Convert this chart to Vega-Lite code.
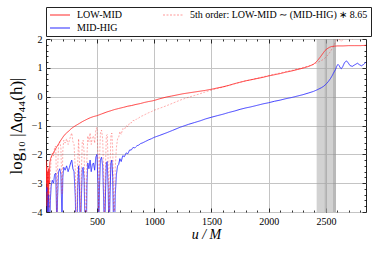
{
  "$schema": "https://vega.github.io/schema/vega-lite/v6.json",
  "width": 320,
  "height": 173,
  "autosize": {"type": "none"},
  "padding": {"left": 46, "top": 39, "right": 8, "bottom": 41},
  "config": {
    "view": {"stroke": "#222", "strokeWidth": 1},
    "font": "Liberation Serif",
    "legend": {
      "orient": "none", "legendX": 0, "legendY": -32, "columns": 2,
      "padding": 3, "rowPadding": 3, "columnPadding": 40,
      "strokeColor": "#222", "fillColor": "white",
      "labelFont": "Liberation Serif", "labelFontSize": 10, "labelColor": "#000", "labelLimit": 400,
      "symbolSize": 400, "symbolStrokeWidth": 1.2, "symbolType": "stroke",
      "clipHeight": 10, "labelOffset": 6
    }
  },
  "data": {"values": [
    {"s":"LOW-MID","u":55,"v":-2.2},{"s":"LOW-MID","u":58,"v":-3.0},{"s":"LOW-MID","u":61,"v":-2.4},{"s":"LOW-MID","u":64,"v":-3.8},{"s":"LOW-MID","u":67,"v":-2.6},{"s":"LOW-MID","u":70,"v":-4.3},{"s":"LOW-MID","u":73,"v":-2.9},{"s":"LOW-MID","u":76,"v":-3.6},{"s":"LOW-MID","u":79,"v":-2.5},{"s":"LOW-MID","u":83,"v":-3.0},{"s":"LOW-MID","u":88,"v":-2.3},{"s":"LOW-MID","u":95,"v":-2.15},{"s":"LOW-MID","u":105,"v":-2.05},{"s":"LOW-MID","u":113,"v":-2.0},{"s":"LOW-MID","u":121,"v":-1.95},{"s":"LOW-MID","u":130,"v":-1.87},{"s":"LOW-MID","u":140,"v":-1.8},{"s":"LOW-MID","u":152,"v":-1.72},{"s":"LOW-MID","u":165,"v":-1.64},{"s":"LOW-MID","u":178,"v":-1.55},{"s":"LOW-MID","u":190,"v":-1.48},{"s":"LOW-MID","u":205,"v":-1.39},{"s":"LOW-MID","u":223,"v":-1.3},{"s":"LOW-MID","u":240,"v":-1.24},{"s":"LOW-MID","u":260,"v":-1.17},{"s":"LOW-MID","u":278,"v":-1.1},{"s":"LOW-MID","u":296,"v":-1.05},{"s":"LOW-MID","u":320,"v":-0.99},{"s":"LOW-MID","u":350,"v":-0.92},{"s":"LOW-MID","u":375,"v":-0.86},{"s":"LOW-MID","u":400,"v":-0.81},{"s":"LOW-MID","u":420,"v":-0.77},{"s":"LOW-MID","u":442,"v":-0.73},{"s":"LOW-MID","u":470,"v":-0.69},{"s":"LOW-MID","u":500,"v":-0.66},{"s":"LOW-MID","u":540,"v":-0.6},{"s":"LOW-MID","u":587,"v":-0.53},{"s":"LOW-MID","u":620,"v":-0.49},{"s":"LOW-MID","u":650,"v":-0.45},{"s":"LOW-MID","u":690,"v":-0.41},{"s":"LOW-MID","u":732,"v":-0.37},{"s":"LOW-MID","u":770,"v":-0.33},{"s":"LOW-MID","u":800,"v":-0.31},{"s":"LOW-MID","u":840,"v":-0.27},{"s":"LOW-MID","u":878,"v":-0.24},{"s":"LOW-MID","u":915,"v":-0.2},{"s":"LOW-MID","u":950,"v":-0.17},{"s":"LOW-MID","u":980,"v":-0.15},{"s":"LOW-MID","u":1009,"v":-0.12},{"s":"LOW-MID","u":1050,"v":-0.07},{"s":"LOW-MID","u":1110,"v":-0.01},{"s":"LOW-MID","u":1150,"v":0.02},{"s":"LOW-MID","u":1200,"v":0.06},{"s":"LOW-MID","u":1250,"v":0.1},{"s":"LOW-MID","u":1300,"v":0.13},{"s":"LOW-MID","u":1350,"v":0.16},{"s":"LOW-MID","u":1400,"v":0.19},{"s":"LOW-MID","u":1450,"v":0.22},{"s":"LOW-MID","u":1503,"v":0.26},{"s":"LOW-MID","u":1550,"v":0.3},{"s":"LOW-MID","u":1600,"v":0.34},{"s":"LOW-MID","u":1650,"v":0.39},{"s":"LOW-MID","u":1700,"v":0.45},{"s":"LOW-MID","u":1750,"v":0.5},{"s":"LOW-MID","u":1800,"v":0.55},{"s":"LOW-MID","u":1838,"v":0.58},{"s":"LOW-MID","u":1900,"v":0.63},{"s":"LOW-MID","u":1950,"v":0.67},{"s":"LOW-MID","u":2000,"v":0.72},{"s":"LOW-MID","u":2050,"v":0.76},{"s":"LOW-MID","u":2100,"v":0.8},{"s":"LOW-MID","u":2150,"v":0.85},{"s":"LOW-MID","u":2200,"v":0.89},{"s":"LOW-MID","u":2250,"v":0.94},{"s":"LOW-MID","u":2300,"v":0.99},{"s":"LOW-MID","u":2350,"v":1.05},{"s":"LOW-MID","u":2390,"v":1.12},{"s":"LOW-MID","u":2414,"v":1.2},{"s":"LOW-MID","u":2430,"v":1.27},{"s":"LOW-MID","u":2448,"v":1.36},{"s":"LOW-MID","u":2470,"v":1.48},{"s":"LOW-MID","u":2492,"v":1.6},{"s":"LOW-MID","u":2510,"v":1.66},{"s":"LOW-MID","u":2530,"v":1.71},{"s":"LOW-MID","u":2550,"v":1.74},{"s":"LOW-MID","u":2570,"v":1.75},{"s":"LOW-MID","u":2600,"v":1.76},{"s":"LOW-MID","u":2650,"v":1.76},{"s":"LOW-MID","u":2700,"v":1.77},{"s":"LOW-MID","u":2750,"v":1.77},{"s":"LOW-MID","u":2800,"v":1.77},{"s":"LOW-MID","u":2850,"v":1.78},

    {"s":"MID-HIG","u":58,"v":-3.3},{"s":"MID-HIG","u":64,"v":-3.15},{"s":"MID-HIG","u":70,"v":-4.6},{"s":"MID-HIG","u":78,"v":-3.4},{"s":"MID-HIG","u":86,"v":-4.8},{"s":"MID-HIG","u":93,"v":-3.6},{"s":"MID-HIG","u":100,"v":-3.1},{"s":"MID-HIG","u":110,"v":-2.9},{"s":"MID-HIG","u":121,"v":-3.0},{"s":"MID-HIG","u":130,"v":-2.7},{"s":"MID-HIG","u":140,"v":-2.65},{"s":"MID-HIG","u":146,"v":-3.8},{"s":"MID-HIG","u":150,"v":-5.0},{"s":"MID-HIG","u":156,"v":-3.5},{"s":"MID-HIG","u":165,"v":-2.6},{"s":"MID-HIG","u":175,"v":-2.5},{"s":"MID-HIG","u":185,"v":-2.7},{"s":"MID-HIG","u":195,"v":-4.3},{"s":"MID-HIG","u":202,"v":-2.8},{"s":"MID-HIG","u":210,"v":-2.45},{"s":"MID-HIG","u":222,"v":-2.55},{"s":"MID-HIG","u":235,"v":-2.4},{"s":"MID-HIG","u":248,"v":-2.6},{"s":"MID-HIG","u":260,"v":-2.45},{"s":"MID-HIG","u":270,"v":-2.3},{"s":"MID-HIG","u":280,"v":-2.2},{"s":"MID-HIG","u":290,"v":-2.5},{"s":"MID-HIG","u":300,"v":-2.6},{"s":"MID-HIG","u":311,"v":-3.5},{"s":"MID-HIG","u":318,"v":-5.2},{"s":"MID-HIG","u":326,"v":-4.8},{"s":"MID-HIG","u":332,"v":-3.2},{"s":"MID-HIG","u":340,"v":-2.4},{"s":"MID-HIG","u":348,"v":-3.3},{"s":"MID-HIG","u":356,"v":-5.0},{"s":"MID-HIG","u":365,"v":-3.4},{"s":"MID-HIG","u":372,"v":-2.5},{"s":"MID-HIG","u":380,"v":-2.45},{"s":"MID-HIG","u":388,"v":-2.9},{"s":"MID-HIG","u":398,"v":-4.9},{"s":"MID-HIG","u":406,"v":-5.2},{"s":"MID-HIG","u":413,"v":-3.0},{"s":"MID-HIG","u":420,"v":-2.3},{"s":"MID-HIG","u":430,"v":-2.5},{"s":"MID-HIG","u":440,"v":-2.2},{"s":"MID-HIG","u":450,"v":-2.6},{"s":"MID-HIG","u":460,"v":-2.35},{"s":"MID-HIG","u":470,"v":-2.3},{"s":"MID-HIG","u":480,"v":-2.55},{"s":"MID-HIG","u":490,"v":-2.1},{"s":"MID-HIG","u":500,"v":-2.0},{"s":"MID-HIG","u":509,"v":-3.0},{"s":"MID-HIG","u":515,"v":-5.0},{"s":"MID-HIG","u":522,"v":-3.2},{"s":"MID-HIG","u":530,"v":-2.2},{"s":"MID-HIG","u":540,"v":-2.1},{"s":"MID-HIG","u":550,"v":-2.4},{"s":"MID-HIG","u":558,"v":-3.5},{"s":"MID-HIG","u":566,"v":-5.1},{"s":"MID-HIG","u":575,"v":-3.3},{"s":"MID-HIG","u":582,"v":-2.3},{"s":"MID-HIG","u":590,"v":-2.25},{"s":"MID-HIG","u":598,"v":-3.2},{"s":"MID-HIG","u":606,"v":-5.0},{"s":"MID-HIG","u":615,"v":-3.3},{"s":"MID-HIG","u":622,"v":-2.3},{"s":"MID-HIG","u":630,"v":-2.2},{"s":"MID-HIG","u":638,"v":-2.8},{"s":"MID-HIG","u":645,"v":-4.6},{"s":"MID-HIG","u":652,"v":-5.1},{"s":"MID-HIG","u":660,"v":-3.4},{"s":"MID-HIG","u":670,"v":-2.7},{"s":"MID-HIG","u":680,"v":-2.4},{"s":"MID-HIG","u":690,"v":-2.35},{"s":"MID-HIG","u":700,"v":-2.15},{"s":"MID-HIG","u":712,"v":-2.25},{"s":"MID-HIG","u":725,"v":-2.05},{"s":"MID-HIG","u":740,"v":-2.08},{"s":"MID-HIG","u":755,"v":-1.95},{"s":"MID-HIG","u":770,"v":-1.98},{"s":"MID-HIG","u":785,"v":-1.85},{"s":"MID-HIG","u":800,"v":-1.85},{"s":"MID-HIG","u":815,"v":-1.76},{"s":"MID-HIG","u":830,"v":-1.78},{"s":"MID-HIG","u":850,"v":-1.7},{"s":"MID-HIG","u":865,"v":-1.68},{"s":"MID-HIG","u":880,"v":-1.63},{"s":"MID-HIG","u":900,"v":-1.6},{"s":"MID-HIG","u":925,"v":-1.55},{"s":"MID-HIG","u":950,"v":-1.5},{"s":"MID-HIG","u":975,"v":-1.46},{"s":"MID-HIG","u":1000,"v":-1.41},{"s":"MID-HIG","u":1050,"v":-1.34},{"s":"MID-HIG","u":1110,"v":-1.25},{"s":"MID-HIG","u":1160,"v":-1.17},{"s":"MID-HIG","u":1227,"v":-1.06},{"s":"MID-HIG","u":1300,"v":-0.96},{"s":"MID-HIG","u":1350,"v":-0.9},{"s":"MID-HIG","u":1400,"v":-0.84},{"s":"MID-HIG","u":1450,"v":-0.77},{"s":"MID-HIG","u":1503,"v":-0.71},{"s":"MID-HIG","u":1550,"v":-0.66},{"s":"MID-HIG","u":1600,"v":-0.61},{"s":"MID-HIG","u":1650,"v":-0.55},{"s":"MID-HIG","u":1700,"v":-0.5},{"s":"MID-HIG","u":1750,"v":-0.44},{"s":"MID-HIG","u":1800,"v":-0.39},{"s":"MID-HIG","u":1838,"v":-0.36},{"s":"MID-HIG","u":1900,"v":-0.3},{"s":"MID-HIG","u":1950,"v":-0.25},{"s":"MID-HIG","u":2000,"v":-0.21},{"s":"MID-HIG","u":2050,"v":-0.16},{"s":"MID-HIG","u":2100,"v":-0.12},{"s":"MID-HIG","u":2150,"v":-0.07},{"s":"MID-HIG","u":2200,"v":-0.03},{"s":"MID-HIG","u":2250,"v":0.02},{"s":"MID-HIG","u":2300,"v":0.07},{"s":"MID-HIG","u":2350,"v":0.13},{"s":"MID-HIG","u":2390,"v":0.18},{"s":"MID-HIG","u":2419,"v":0.23},{"s":"MID-HIG","u":2440,"v":0.27},{"s":"MID-HIG","u":2460,"v":0.31},{"s":"MID-HIG","u":2480,"v":0.36},{"s":"MID-HIG","u":2500,"v":0.43},{"s":"MID-HIG","u":2520,"v":0.52},{"s":"MID-HIG","u":2540,"v":0.63},{"s":"MID-HIG","u":2555,"v":0.73},{"s":"MID-HIG","u":2565,"v":0.81},{"s":"MID-HIG","u":2575,"v":0.88},{"s":"MID-HIG","u":2585,"v":0.95},{"s":"MID-HIG","u":2595,"v":1.06},{"s":"MID-HIG","u":2605,"v":1.12},{"s":"MID-HIG","u":2615,"v":1.08},{"s":"MID-HIG","u":2625,"v":1.0},{"s":"MID-HIG","u":2635,"v":0.97},{"s":"MID-HIG","u":2648,"v":1.05},{"s":"MID-HIG","u":2662,"v":1.18},{"s":"MID-HIG","u":2680,"v":1.24},{"s":"MID-HIG","u":2695,"v":1.17},{"s":"MID-HIG","u":2710,"v":1.08},{"s":"MID-HIG","u":2730,"v":1.05},{"s":"MID-HIG","u":2750,"v":1.1},{"s":"MID-HIG","u":2775,"v":1.16},{"s":"MID-HIG","u":2792,"v":1.11},{"s":"MID-HIG","u":2810,"v":1.07},{"s":"MID-HIG","u":2830,"v":1.12},{"s":"MID-HIG","u":2850,"v":1.2},

    {"s":"5th","u":58,"v":-2.36},{"s":"5th","u":64,"v":-2.21},{"s":"5th","u":70,"v":-3.66},{"s":"5th","u":78,"v":-2.46},{"s":"5th","u":86,"v":-3.86},{"s":"5th","u":93,"v":-2.66},{"s":"5th","u":100,"v":-2.16},{"s":"5th","u":110,"v":-1.96},{"s":"5th","u":121,"v":-2.06},{"s":"5th","u":130,"v":-1.76},{"s":"5th","u":140,"v":-1.71},{"s":"5th","u":146,"v":-2.86},{"s":"5th","u":150,"v":-4.06},{"s":"5th","u":156,"v":-2.56},{"s":"5th","u":165,"v":-1.66},{"s":"5th","u":175,"v":-1.56},{"s":"5th","u":185,"v":-1.76},{"s":"5th","u":195,"v":-3.36},{"s":"5th","u":202,"v":-1.86},{"s":"5th","u":210,"v":-1.51},{"s":"5th","u":222,"v":-1.61},{"s":"5th","u":235,"v":-1.46},{"s":"5th","u":248,"v":-1.66},{"s":"5th","u":260,"v":-1.51},{"s":"5th","u":270,"v":-1.36},{"s":"5th","u":280,"v":-1.26},{"s":"5th","u":290,"v":-1.56},{"s":"5th","u":300,"v":-1.66},{"s":"5th","u":311,"v":-2.56},{"s":"5th","u":318,"v":-4.26},{"s":"5th","u":326,"v":-3.86},{"s":"5th","u":332,"v":-2.26},{"s":"5th","u":340,"v":-1.46},{"s":"5th","u":348,"v":-2.36},{"s":"5th","u":356,"v":-4.06},{"s":"5th","u":365,"v":-2.46},{"s":"5th","u":372,"v":-1.56},{"s":"5th","u":380,"v":-1.51},{"s":"5th","u":388,"v":-1.96},{"s":"5th","u":398,"v":-3.96},{"s":"5th","u":406,"v":-4.26},{"s":"5th","u":413,"v":-2.06},{"s":"5th","u":420,"v":-1.36},{"s":"5th","u":430,"v":-1.56},{"s":"5th","u":440,"v":-1.26},{"s":"5th","u":450,"v":-1.66},{"s":"5th","u":460,"v":-1.41},{"s":"5th","u":470,"v":-1.36},{"s":"5th","u":480,"v":-1.61},{"s":"5th","u":490,"v":-1.16},{"s":"5th","u":500,"v":-1.06},{"s":"5th","u":509,"v":-2.06},{"s":"5th","u":515,"v":-4.06},{"s":"5th","u":522,"v":-2.26},{"s":"5th","u":530,"v":-1.26},{"s":"5th","u":540,"v":-1.16},{"s":"5th","u":550,"v":-1.46},{"s":"5th","u":558,"v":-2.56},{"s":"5th","u":566,"v":-4.16},{"s":"5th","u":575,"v":-2.36},{"s":"5th","u":582,"v":-1.36},{"s":"5th","u":590,"v":-1.31},{"s":"5th","u":598,"v":-2.26},{"s":"5th","u":606,"v":-4.06},{"s":"5th","u":615,"v":-2.36},{"s":"5th","u":622,"v":-1.36},{"s":"5th","u":630,"v":-1.26},{"s":"5th","u":638,"v":-1.86},{"s":"5th","u":645,"v":-3.66},{"s":"5th","u":652,"v":-4.16},{"s":"5th","u":660,"v":-2.46},{"s":"5th","u":670,"v":-1.76},{"s":"5th","u":680,"v":-1.46},{"s":"5th","u":690,"v":-1.41},{"s":"5th","u":700,"v":-1.21},{"s":"5th","u":712,"v":-1.31},{"s":"5th","u":725,"v":-1.11},{"s":"5th","u":740,"v":-1.14},{"s":"5th","u":755,"v":-1.01},{"s":"5th","u":770,"v":-1.04},{"s":"5th","u":785,"v":-0.91},{"s":"5th","u":800,"v":-0.91},{"s":"5th","u":815,"v":-0.82},{"s":"5th","u":830,"v":-0.84},{"s":"5th","u":850,"v":-0.76},{"s":"5th","u":865,"v":-0.74},{"s":"5th","u":880,"v":-0.69},{"s":"5th","u":900,"v":-0.66},{"s":"5th","u":925,"v":-0.61},{"s":"5th","u":950,"v":-0.56},{"s":"5th","u":975,"v":-0.52},{"s":"5th","u":1000,"v":-0.47},{"s":"5th","u":1050,"v":-0.4},{"s":"5th","u":1110,"v":-0.31},{"s":"5th","u":1160,"v":-0.23},{"s":"5th","u":1227,"v":-0.12},{"s":"5th","u":1300,"v":-0.02},{"s":"5th","u":1350,"v":0.04},{"s":"5th","u":1400,"v":0.1},{"s":"5th","u":1450,"v":0.17},{"s":"5th","u":1503,"v":0.23},{"s":"5th","u":1550,"v":0.28},{"s":"5th","u":1600,"v":0.33},{"s":"5th","u":1650,"v":0.39},{"s":"5th","u":1700,"v":0.44},{"s":"5th","u":1750,"v":0.5},{"s":"5th","u":1800,"v":0.55},{"s":"5th","u":1838,"v":0.58},{"s":"5th","u":1900,"v":0.64},{"s":"5th","u":1950,"v":0.69},{"s":"5th","u":2000,"v":0.73},{"s":"5th","u":2050,"v":0.78},{"s":"5th","u":2100,"v":0.82},{"s":"5th","u":2150,"v":0.87},{"s":"5th","u":2200,"v":0.91},{"s":"5th","u":2250,"v":0.96},{"s":"5th","u":2300,"v":1.01},{"s":"5th","u":2350,"v":1.07},{"s":"5th","u":2390,"v":1.12},{"s":"5th","u":2419,"v":1.17},{"s":"5th","u":2440,"v":1.21},{"s":"5th","u":2460,"v":1.25},{"s":"5th","u":2480,"v":1.3},{"s":"5th","u":2500,"v":1.37},{"s":"5th","u":2520,"v":1.46},{"s":"5th","u":2540,"v":1.57},{"s":"5th","u":2555,"v":1.67},{"s":"5th","u":2565,"v":1.75},{"s":"5th","u":2575,"v":1.82},{"s":"5th","u":2585,"v":1.89},{"s":"5th","u":2595,"v":2.0},{"s":"5th","u":2605,"v":2.06},{"s":"5th","u":2615,"v":2.02},{"s":"5th","u":2625,"v":1.94},{"s":"5th","u":2635,"v":1.91},{"s":"5th","u":2648,"v":1.99},{"s":"5th","u":2662,"v":2.12},{"s":"5th","u":2680,"v":2.18},{"s":"5th","u":2695,"v":2.11},{"s":"5th","u":2710,"v":2.02},{"s":"5th","u":2730,"v":1.99},{"s":"5th","u":2750,"v":2.04},{"s":"5th","u":2775,"v":2.1},{"s":"5th","u":2792,"v":2.05},{"s":"5th","u":2810,"v":2.01},{"s":"5th","u":2830,"v":2.06},{"s":"5th","u":2850,"v":2.14}
  ]},
  "layer": [
    {
      "data": {"values": [{"u0": 2419, "u1": 2588}]},
      "mark": {"type": "rect", "fill": "#a6a6a6", "opacity": 0.5},
      "encoding": {
        "x": {"field": "u0", "type": "quantitative", "axis": null, "scale": {"domain": [55, 2850], "nice": false, "zero": false}},
        "x2": {"field": "u1"}
      }
    },
    {
      "data": {"values": [{"u": 2498}]},
      "mark": {"type": "rule", "color": "#a6a6a6", "opacity": 0.5, "strokeWidth": 2},
      "encoding": {
        "x": {"field": "u", "type": "quantitative", "axis": null, "scale": {"domain": [55, 2850], "nice": false, "zero": false}}
      }
    },
    {
      "data": {"values": [{"u0": 2562, "u1": 2588}]},
      "mark": {"type": "rect", "fill": "#808080", "opacity": 0.3},
      "encoding": {
        "x": {"field": "u0", "type": "quantitative", "axis": null, "scale": {"domain": [55, 2850], "nice": false, "zero": false}},
        "x2": {"field": "u1"}
      }
    },
    {
      "transform": [{"filter": "datum.s === 'LOW-MID'"}],
      "mark": {"type": "line", "clip": true, "strokeWidth": 0.9},
      "encoding": {
        "x": {"field": "u", "type": "quantitative", "scale": {"domain": [55, 2850], "nice": false, "zero": false},
          "axis": {
            "orient": "bottom",
            "values": [100,200,300,400,500,600,700,800,900,1000,1100,1200,1300,1400,1500,1600,1700,1800,1900,2000,2100,2200,2300,2400,2500,2600,2700,2800],
            "labelExpr": "datum.value % 500 === 0 ? '' + datum.value : ''",
            "tickSize": {"condition": {"test": "datum.value % 500 === 0", "value": -4}, "value": -2},
            "grid": true,
            "gridOpacity": {"condition": {"test": "datum.value % 500 === 0", "value": 1}, "value": 0},
            "gridColor": "#c4c4c4", "gridWidth": 1,
            "domain": false, "tickColor": "#000", "tickWidth": 0.8,
            "labelFont": "Liberation Serif", "labelFontSize": 10, "labelColor": "#000", "labelPadding": 8,
            "labelFlush": false, "labelOverlap": false,
            "title": "u / M", "titleFont": "Liberation Serif", "titleFontSize": 14, "titleFontStyle": "italic", "titleFontWeight": "normal", "titleColor": "#000", "titlePadding": -1
          }
        },
        "y": {"field": "v", "type": "quantitative", "scale": {"domain": [-4, 2], "nice": false, "zero": false},
          "axis": {
            "orient": "left",
            "values": [-4,-3.8,-3.6,-3.4,-3.2,-3,-2.8,-2.6,-2.4,-2.2,-2,-1.8,-1.6,-1.4,-1.2,-1,-0.8,-0.6,-0.4,-0.2,0,0.2,0.4,0.6,0.8,1,1.2,1.4,1.6,1.8,2],
            "labelExpr": "abs(datum.value - round(datum.value)) < 0.001 ? (datum.value < -0.001 ? '−' + abs(round(datum.value)) : '' + round(datum.value)) : ''",
            "tickSize": {"condition": {"test": "abs(datum.value - round(datum.value)) < 0.001", "value": -4}, "value": -2},
            "grid": true,
            "gridOpacity": {"condition": {"test": "abs(datum.value - round(datum.value)) < 0.001", "value": 1}, "value": 0},
            "gridColor": "#c4c4c4", "gridWidth": 1,
            "domain": false, "tickColor": "#000", "tickWidth": 0.8,
            "labelFont": "Liberation Serif", "labelFontSize": 10, "labelColor": "#000", "labelPadding": 8,
            "labelFlush": false, "labelOverlap": false,
            "title": "log₁₀ |Δφ₄₄(h)|", "titleFont": "Liberation Serif", "titleFontSize": 17, "titleFontWeight": "normal", "titleColor": "#000", "titlePadding": 6
          }
        },
        "color": {"field": "s", "type": "nominal",
          "scale": {"domain": ["LOW-MID", "MID-HIG", "5th"], "range": ["#ff2a2a", "#2a2aff", "rgba(255,0,0,0.4)"]},
          "legend": {"title": null, "labelExpr": "datum.label === '5th' ? '5th order: LOW-MID ∼ (MID-HIG) ∗ 8.65' : datum.label"}},
        "strokeDash": {"field": "s", "type": "nominal",
          "scale": {"domain": ["LOW-MID", "MID-HIG", "5th"], "range": [[1, 0], [1, 0], [2, 1.5]]},
          "legend": {"title": null, "labelExpr": "datum.label === '5th' ? '5th order: LOW-MID ∼ (MID-HIG) ∗ 8.65' : datum.label"}}
      }
    },
    {
      "transform": [{"filter": "datum.s === 'MID-HIG'"}],
      "mark": {"type": "line", "clip": true, "strokeWidth": 0.9},
      "encoding": {
        "x": {"field": "u", "type": "quantitative", "scale": {"domain": [55, 2850], "nice": false, "zero": false},
          "axis": {
            "orient": "top",
            "values": [100,200,300,400,500,600,700,800,900,1000,1100,1200,1300,1400,1500,1600,1700,1800,1900,2000,2100,2200,2300,2400,2500,2600,2700,2800],
            "labels": false, "grid": false, "domain": false, "title": null,
            "tickSize": {"condition": {"test": "datum.value % 500 === 0", "value": -4}, "value": -2},
            "tickColor": "#000", "tickWidth": 0.8
          }
        },
        "y": {"field": "v", "type": "quantitative", "scale": {"domain": [-4, 2], "nice": false, "zero": false},
          "axis": {
            "orient": "right",
            "values": [-4,-3.8,-3.6,-3.4,-3.2,-3,-2.8,-2.6,-2.4,-2.2,-2,-1.8,-1.6,-1.4,-1.2,-1,-0.8,-0.6,-0.4,-0.2,0,0.2,0.4,0.6,0.8,1,1.2,1.4,1.6,1.8,2],
            "labels": false, "grid": false, "domain": false, "title": null,
            "tickSize": {"condition": {"test": "abs(datum.value - round(datum.value)) < 0.001", "value": -4}, "value": -2},
            "tickColor": "#000", "tickWidth": 0.8
          }
        },
        "color": {"field": "s", "type": "nominal", "scale": {"domain": ["LOW-MID", "MID-HIG", "5th"], "range": ["#ff2a2a", "#2a2aff", "rgba(255,0,0,0.4)"]}},
        "strokeDash": {"field": "s", "type": "nominal", "scale": {"domain": ["LOW-MID", "MID-HIG", "5th"], "range": [[1, 0], [1, 0], [2, 1.5]]}}
      }
    },
    {
      "transform": [{"filter": "datum.s === '5th'"}],
      "mark": {"type": "line", "clip": true, "strokeWidth": 0.8},
      "encoding": {
        "x": {"field": "u", "type": "quantitative", "axis": null, "scale": {"domain": [55, 2850], "nice": false, "zero": false}},
        "y": {"field": "v", "type": "quantitative", "axis": null, "scale": {"domain": [-4, 2], "nice": false, "zero": false}},
        "color": {"field": "s", "type": "nominal", "scale": {"domain": ["LOW-MID", "MID-HIG", "5th"], "range": ["#ff2a2a", "#2a2aff", "rgba(255,0,0,0.4)"]}},
        "strokeDash": {"field": "s", "type": "nominal", "scale": {"domain": ["LOW-MID", "MID-HIG", "5th"], "range": [[1, 0], [1, 0], [2, 1.5]]}}
      }
    }
  ],
  "resolve": {"axis": {"x": "independent", "y": "independent"}}
}
